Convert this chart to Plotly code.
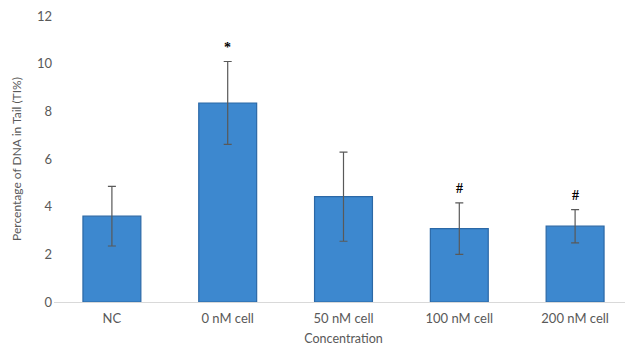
import plotly.graph_objects as go

categories = ["NC", "0 nM cell", "50 nM cell", "100 nM cell", "200 nM cell"]
values = [3.6, 8.35, 4.42, 3.08, 3.18]
errors = [1.25, 1.74, 1.87, 1.08, 0.7]
marks = ["", "*", "", "#", "#"]
y_ticks = [0, 2, 4, 6, 8, 10, 12]

font = "Lato, 'Open Sans', sans-serif"
grey = "#595959"

fig = go.Figure()
fig.add_trace(go.Bar(
    x=categories, y=values, width=0.5,
    marker=dict(color="#3d88cf", line=dict(color="#2b68a6", width=1.2)),
    error_y=dict(type="data", array=errors, visible=True,
                 color="#595959", thickness=1.2, width=4),
    hoverinfo="skip",
))
for c, v, e, m in zip(categories, values, errors, marks):
    if m:
        fig.add_annotation(x=c, y=v + e, text="<b>" + m + "</b>", showarrow=False,
                           yshift=14, font=dict(family="Liberation Serif, serif", size=14, color="#000"))

fig.update_layout(
    width=625, height=338,
    margin=dict(l=46, r=0, t=8, b=44, autoexpand=False),
    plot_bgcolor="white", paper_bgcolor="white",
    showlegend=False,
    font=dict(family=font, size=13, color=grey),
    xaxis=dict(showline=True, linecolor="#d9d9d9", linewidth=1, ticks="", automargin=False,
               tickfont=dict(size=13), ticklabelstandoff=4, ticklabeloverflow="allow",
               title=dict(text="Concentration", standoff=10, font=dict(size=12.5, color=grey))),
    yaxis=dict(range=[0, 12], tickvals=y_ticks, showgrid=False, zeroline=False, automargin=False,
               showline=False, ticks="", ticklabelstandoff=1, tickfont=dict(size=13),
               ticklabeloverflow="allow",
               title=dict(text="Percentage of DNA in Tail (TI%)", standoff=12,
                          font=dict(size=12, color=grey))),
)
fig.write_html("out.html")
